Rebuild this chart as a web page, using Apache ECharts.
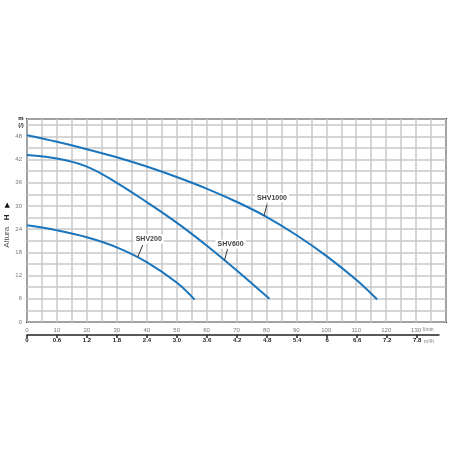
<!DOCTYPE html>
<html>
<head>
<meta charset="utf-8">
<script src="https://cdn.jsdelivr.net/npm/echarts@6/dist/echarts.min.js"></script>
<style>
html, body { margin: 0; padding: 0; background: #fff; }
#main { width: 456px; height: 456px; }
</style>
</head>
<body>
<div id="main"></div>
<script>
// curvas caudal (l/min) / altura (m)
const curveNames = ['SHV200', 'SHV600', 'SHV1000'];
const shv200 = [[0, 25.0], [10, 23.7], [20, 21.9], [30, 19.3], [40, 15.5], [50, 10.2], [56, 5.8]];
const shv600 = [[0, 43.2], [10, 42.3], [20, 40.2], [30, 36.0], [40, 31.0], [50, 25.7], [60, 19.8], [70, 13.4], [81, 6.0]];
const shv1000 = [[0, 48.3], [10, 46.6], [20, 44.7], [30, 42.6], [40, 40.2], [50, 37.5], [60, 34.5], [70, 31.1], [80, 27.2], [90, 22.5], [100, 17.1], [110, 10.9], [117, 5.8]];
// point on each curve where the name tag points
const labelAnchors = [[37, 16.8], [66, 16.0], [79.2, 27.5]];

const flowTicksLmin = [0, 10, 20, 30, 40, 50, 60, 70, 80, 90, 100, 110, 120, 130];
const flowTicksM3h = ['0', '0.6', '1.2', '1.8', '2.4', '3.0', '3.6', '4.2', '4.8', '5.4', '6', '6.6', '7.2', '7.8'];
const heightTicks = [0, 6, 12, 18, 24, 30, 36, 42, 48];

// tag layout: leader end and text centre, relative to anchor (px)
const tagOffsets = [
    { lx: 5, ly: -12, tx: 11, ty: -18 },
    { lx: 3, ly: -11, tx: 6, ty: -16 },
    { lx: 3, ly: -11, tx: 8, ty: -18 }
];

const blue = '#1b75bc';
let chart = echarts.init(document.getElementById('main'));

function curve(name, data) {
    return {
        name: name,
        type: 'line',
        smooth: 0.4,
        showSymbol: false,
        data: data,
        lineStyle: { color: blue, width: 2 },
        itemStyle: { color: blue },
        z: 3
    };
}

chart.setOption({
    animation: false,
    backgroundColor: '#fff',
    textStyle: { fontFamily: 'Liberation Sans, Arial, sans-serif' },
    grid: [
        { left: 27, top: 119, right: 10, bottom: 134, show: true, borderColor: '#333', borderWidth: 2, backgroundColor: 'transparent' },
        { left: 27, top: 334, width: 412, height: 1, show: false }
    ],
    xAxis: [{
        gridIndex: 0,
        type: 'value',
        min: 0,
        max: 140,
        interval: 5,
        axisLine: { show: false },
        axisTick: { show: false },
        axisLabel: {
            fontSize: 6,
            color: '#777',
            margin: 5,
            formatter: v => flowTicksLmin.includes(v) ? String(v) : ''
        },
        splitLine: { show: true, lineStyle: { color: '#c8c8c8', width: 1.5 } }
    }, {
        gridIndex: 1,
        type: 'value',
        min: 0,
        max: 137.3,
        axisLine: { show: true, lineStyle: { color: '#222', width: 1.5 } },
        axisTick: { show: true, customValues: flowTicksLmin, length: 3, lineStyle: { color: '#222', width: 1.5 } },
        axisLabel: {
            customValues: flowTicksLmin,
            fontSize: 6,
            fontWeight: 'bold',
            color: '#222',
            margin: 2,
            formatter: v => {
                let i = flowTicksLmin.indexOf(v);
                return i >= 0 ? flowTicksM3h[i] : '';
            }
        },
        splitLine: { show: false }
    }],
    yAxis: [{
        gridIndex: 0,
        type: 'value',
        min: 0,
        max: 52.5,
        interval: 3,
        axisLine: { show: false },
        axisTick: { show: false },
        axisLabel: {
            fontSize: 6,
            color: '#777',
            margin: 5,
            formatter: v => heightTicks.includes(v) ? String(v) : ''
        },
        splitLine: { show: true, lineStyle: { color: '#c8c8c8', width: 1.5 } }
    }, {
        gridIndex: 1,
        type: 'value',
        show: false
    }],
    series: [
        curve(curveNames[0], shv200),
        curve(curveNames[1], shv600),
        curve(curveNames[2], shv1000)
    ]
});

// name tags, y axis title, units
let elements = [];
labelAnchors.forEach((a, i) => {
    let p = chart.convertToPixel({ gridIndex: 0 }, a);
    let o = tagOffsets[i];
    elements.push({
        type: 'line',
        shape: { x1: p[0], y1: p[1], x2: p[0] + o.lx, y2: p[1] + o.ly },
        style: { stroke: '#333', lineWidth: 1 },
        z: 10
    });
    elements.push({
        type: 'text',
        x: p[0] + o.tx,
        y: p[1] + o.ty,
        style: {
            text: curveNames[i],
            font: 'bold 7px Liberation Sans, Arial, sans-serif',
            fill: '#444',
            align: 'center',
            verticalAlign: 'middle',
            backgroundColor: '#fff',
            padding: [1, 2]
        },
        z: 11
    });
});

elements.push({
    type: 'text',
    x: 7,
    y: 225,
    rotation: Math.PI / 2,
    style: {
        text: '{a|Altura}  {h|H}  {r|▶}',
        align: 'center',
        verticalAlign: 'middle',
        rich: {
            a: { fontSize: 8, fill: '#555', fontFamily: 'Liberation Sans, Arial, sans-serif' },
            h: { fontSize: 8, fontWeight: 'bold', fill: '#222', fontFamily: 'Liberation Sans, Arial, sans-serif' },
            r: { fontSize: 7, fill: '#111', fontFamily: 'DejaVu Sans, sans-serif' }
        }
    }
});
elements.push({
    type: 'text', x: 21, y: 118,
    style: { text: 'm', font: 'bold 6px Liberation Sans, Arial, sans-serif', fill: '#111', align: 'center', verticalAlign: 'middle' }
});
elements.push({
    type: 'text', x: 21, y: 125,
    style: { text: '(/)', font: 'bold 6px Liberation Sans, Arial, sans-serif', fill: '#333', align: 'center', verticalAlign: 'middle' }
});
elements.push({
    type: 'text', x: 423, y: 330,
    style: { text: 'l/min', font: '5px Liberation Sans, Arial, sans-serif', fill: '#777', align: 'left', verticalAlign: 'middle' }
});
elements.push({
    type: 'text', x: 424, y: 342,
    style: { text: 'm³/h', font: '5px Liberation Sans, Arial, sans-serif', fill: '#777', align: 'left', verticalAlign: 'middle' }
});

chart.setOption({ graphic: { elements: elements } });
</script>
</body>
</html>
